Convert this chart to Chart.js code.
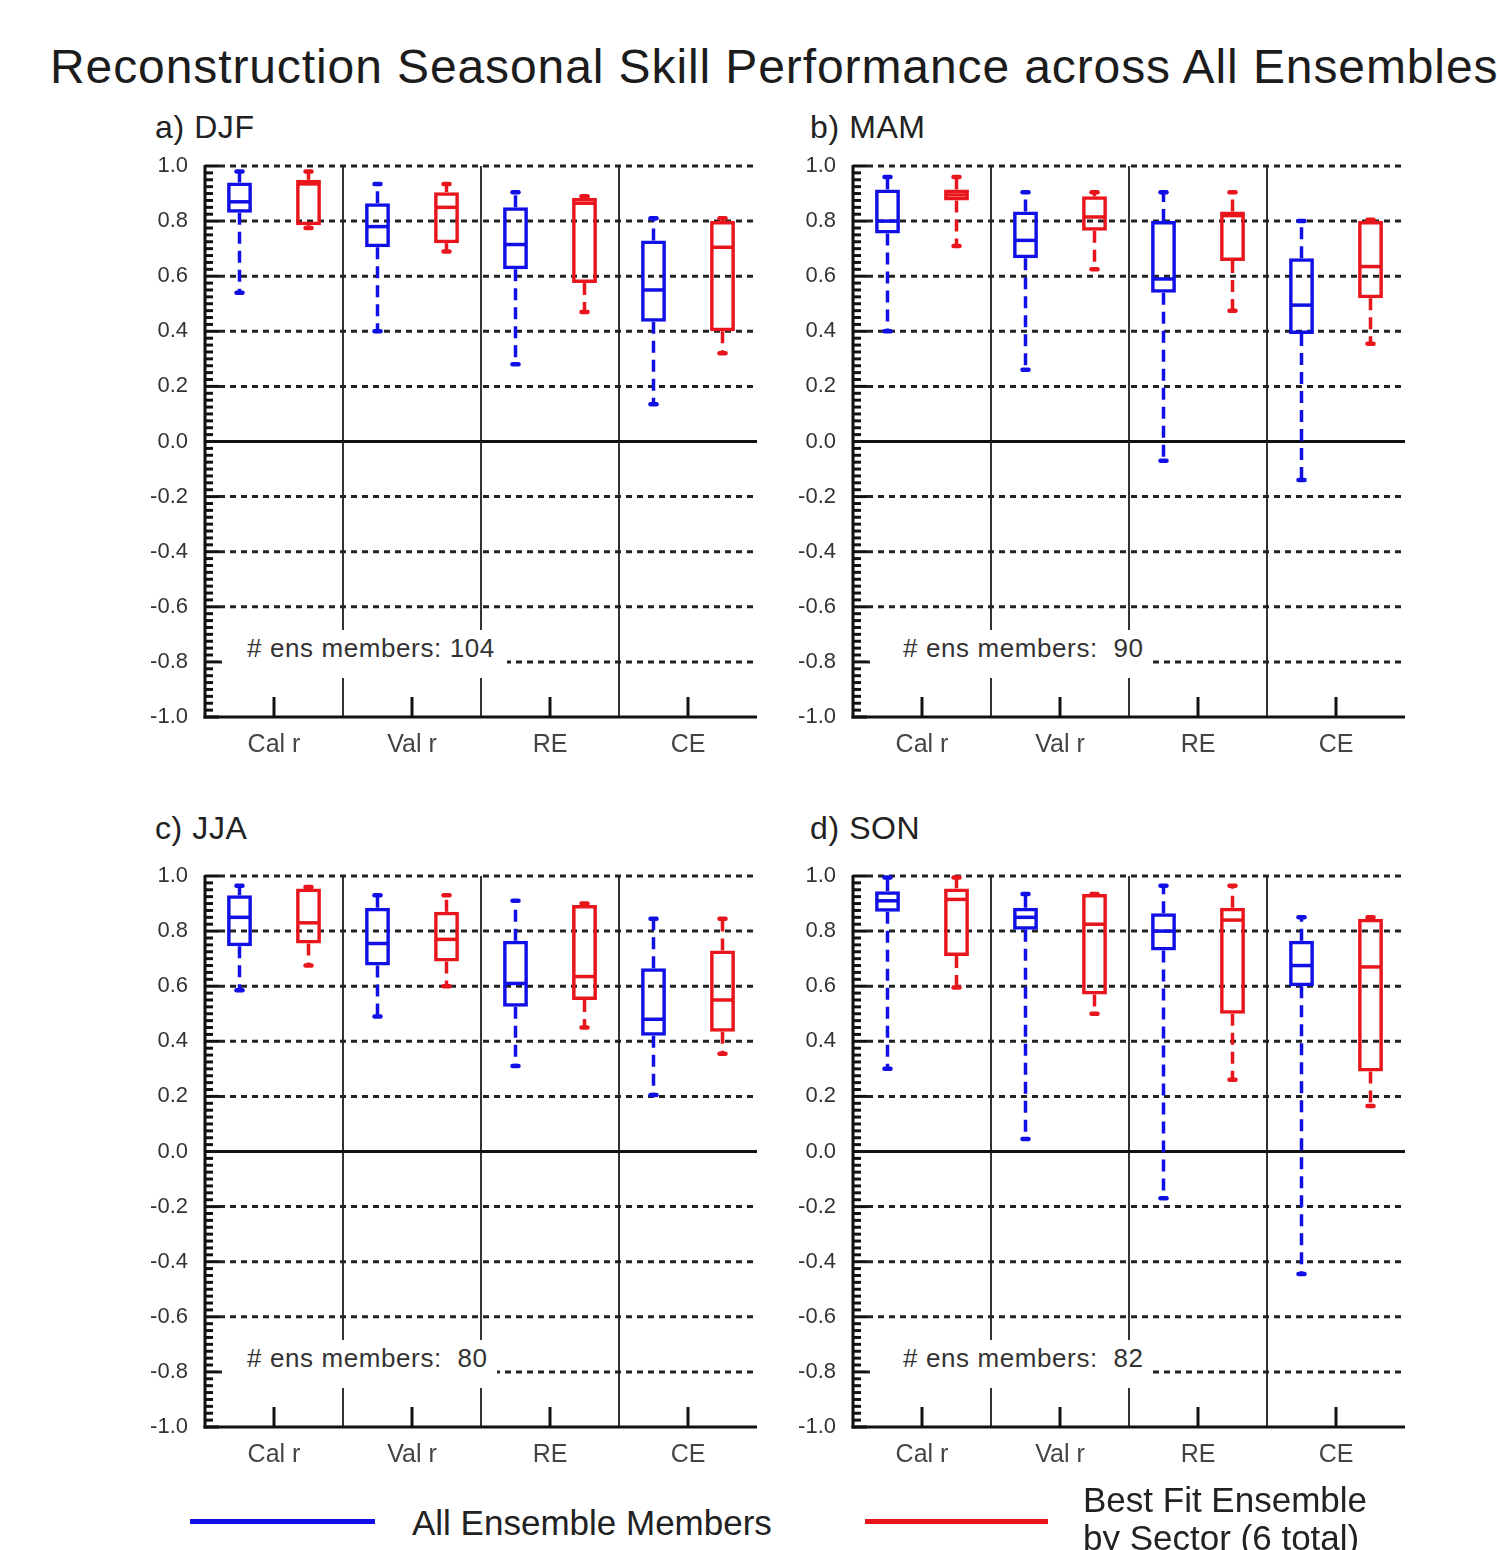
<!DOCTYPE html>
<html>
<head>
<meta charset="utf-8">
<script src="https://cdn.jsdelivr.net/npm/chart.js@4.4.1/dist/chart.umd.min.js"></script>
<style>
  body { margin: 0; background: #fff; width: 1497px; height: 1550px; position: relative; overflow: hidden;
         font-family: "Liberation Sans", Arial, Helvetica, sans-serif; color: #222; }
  .txt { position: absolute; white-space: pre; line-height: 1; }
  .mask { position: absolute; background: #fff; }
  canvas { position: absolute; }
  .key { position: absolute; height: 5px; }
</style>
</head>
<body>
<div class="txt" style="left:50px;top:43px;font-size:48px;letter-spacing:0.9px;color:#1c1c1c">Reconstruction Seasonal Skill Performance across All Ensembles</div>

<div class="txt" style="left:155px;top:111px;font-size:32px;letter-spacing:0.6px">a) DJF</div>
<div class="txt" style="left:810px;top:111px;font-size:32px;letter-spacing:0.6px">b) MAM</div>
<div class="txt" style="left:155px;top:812px;font-size:32px;letter-spacing:0.6px">c) JJA</div>
<div class="txt" style="left:810px;top:812px;font-size:32px;letter-spacing:0.6px">d) SON</div>

<canvas id="grafica-djf" width="640" height="630" style="left:140px;top:145px"></canvas>
<canvas id="grafica-mam" width="640" height="630" style="left:788px;top:145px"></canvas>
<canvas id="grafica-jja" width="640" height="630" style="left:140px;top:855px"></canvas>
<canvas id="grafica-son" width="640" height="630" style="left:788px;top:855px"></canvas>

<div class="mask" style="left:222px;top:630px;width:285px;height:48px"></div>
<div class="txt" style="left:247px;top:635px;font-size:26px;letter-spacing:0.6px;color:#333"># ens members: 104</div>
<div class="mask" style="left:870px;top:630px;width:282px;height:48px"></div>
<div class="txt" style="left:903px;top:635px;font-size:26px;letter-spacing:0.6px;color:#333"># ens members:  90</div>
<div class="mask" style="left:222px;top:1340px;width:275px;height:48px"></div>
<div class="txt" style="left:247px;top:1345px;font-size:26px;letter-spacing:0.6px;color:#333"># ens members:  80</div>
<div class="mask" style="left:870px;top:1340px;width:282px;height:48px"></div>
<div class="txt" style="left:903px;top:1345px;font-size:26px;letter-spacing:0.6px;color:#333"># ens members:  82</div>

<div class="key" style="left:190px;top:1519px;width:185px;background:#1010e6"></div>
<div class="txt" style="left:412px;top:1505px;font-size:35px">All Ensemble Members</div>
<div class="key" style="left:865px;top:1519px;width:183px;background:#e8161c"></div>
<div class="txt" style="left:1083px;top:1482px;font-size:35px">Best Fit Ensemble</div>
<div class="txt" style="left:1083px;top:1520px;font-size:35px">by Sector (6 total)</div>

<script>
// categories and tick labels
const categorias = ["Cal r", "Val r", "RE", "CE"];
const ticksY = [-1.0, -0.8, -0.6, -0.4, -0.2, 0.0, 0.2, 0.4, 0.6, 0.8, 1.0];

// box stats per category: [min, q1, median, q3, max]
const djfAll  = [[0.54, 0.83, 0.87, 0.94, 0.98], [0.40, 0.705, 0.78, 0.865, 0.935], [0.28, 0.625, 0.715, 0.85, 0.905], [0.135, 0.435, 0.55, 0.73, 0.81]];
const djfBest = [[0.775, 0.785, 0.935, 0.95, 0.98], [0.69, 0.72, 0.85, 0.905, 0.935], [0.47, 0.575, 0.865, 0.885, 0.89], [0.32, 0.40, 0.705, 0.80, 0.81]];

const mamAll  = [[0.40, 0.755, 0.80, 0.915, 0.96], [0.26, 0.665, 0.73, 0.835, 0.905], [-0.07, 0.54, 0.59, 0.80, 0.905], [-0.14, 0.39, 0.495, 0.665, 0.80]];
const mamBest = [[0.71, 0.875, 0.895, 0.915, 0.96], [0.625, 0.765, 0.815, 0.89, 0.905], [0.475, 0.655, 0.82, 0.835, 0.905], [0.355, 0.52, 0.635, 0.80, 0.805]];

const jjaAll  = [[0.585, 0.745, 0.85, 0.93, 0.965], [0.49, 0.675, 0.755, 0.885, 0.93], [0.31, 0.525, 0.61, 0.765, 0.91], [0.205, 0.42, 0.48, 0.665, 0.845]];
const jjaBest = [[0.675, 0.755, 0.83, 0.955, 0.96], [0.60, 0.69, 0.77, 0.87, 0.93], [0.45, 0.55, 0.635, 0.895, 0.90], [0.355, 0.435, 0.55, 0.73, 0.845]];

const sonAll  = [[0.30, 0.87, 0.91, 0.945, 0.995], [0.045, 0.805, 0.85, 0.885, 0.935], [-0.17, 0.73, 0.80, 0.865, 0.965], [-0.445, 0.60, 0.675, 0.765, 0.85]];
const sonBest = [[0.595, 0.71, 0.915, 0.955, 0.995], [0.50, 0.57, 0.825, 0.935, 0.935], [0.26, 0.50, 0.84, 0.885, 0.965], [0.165, 0.29, 0.67, 0.845, 0.85]];

const AZUL = "#1010e6";
const ROJO = "#e8161c";

function linea(ctx, x1, y1, x2, y2) {
  ctx.beginPath();
  ctx.moveTo(x1, y1);
  ctx.lineTo(x2, y2);
  ctx.stroke();
}

// grid, separators and axes (NCL style)
const marco = {
  id: "marco",
  beforeDatasetsDraw(chart) {
    const { ctx, chartArea: a, scales: { x, y } } = chart;
    ctx.save();
    // vertical separators between categories
    ctx.strokeStyle = "#333";
    ctx.lineWidth = 2;
    for (let i = 0; i < categorias.length - 1; i++) {
      const px = (x.getPixelForValue(i) + x.getPixelForValue(i + 1)) / 2;
      linea(ctx, px, a.top, px, a.bottom);
    }
    // horizontal lines
    ticksY.forEach(v => {
      const py = y.getPixelForValue(v);
      if (v === 0) {
        ctx.setLineDash([]);
        ctx.lineWidth = 3;
        ctx.strokeStyle = "#111";
        linea(ctx, a.left, py, a.right, py);
      } else if (v > -1) {
        ctx.setLineDash([6, 5]);
        ctx.lineWidth = 3;
        ctx.strokeStyle = "#222";
        linea(ctx, a.left + 14, py, a.right, py);
      }
    });
    ctx.restore();
  },
  afterDatasetsDraw(chart) {
    const { ctx, chartArea: a, scales: { x, y } } = chart;
    ctx.save();
    ctx.strokeStyle = "#111";
    ctx.setLineDash([]);
    ctx.lineWidth = 3;
    linea(ctx, a.left, a.top - 1, a.left, a.bottom + 1.5);
    linea(ctx, a.left - 1.5, a.bottom, a.right, a.bottom);
    // minor / major ticks pointing inward
    for (let k = 0; k <= 80; k++) {
      const py = y.getPixelForValue(-1 + k * 0.025);
      linea(ctx, a.left, py, a.left + (k % 8 === 0 ? 14 : 8), py);
    }
    for (let i = 0; i < categorias.length; i++) {
      const px = x.getPixelForValue(i);
      linea(ctx, px, a.bottom, px, a.bottom - 20);
    }
    ctx.restore();
  }
};

// medians and dashed whiskers on top of the floating bars
const bigotes = {
  id: "bigotes",
  afterDatasetsDraw(chart) {
    const { ctx, scales: { y } } = chart;
    ctx.save();
    chart.data.datasets.forEach((ds, i) => {
      const meta = chart.getDatasetMeta(i);
      ctx.strokeStyle = ds.borderColor;
      meta.data.forEach((bar, j) => {
        const [mn, q1, md, q3, mx] = ds.stats[j];
        const px = bar.x, half = bar.width / 2;
        ctx.setLineDash([]);
        ctx.lineCap = "butt";
        ctx.lineWidth = 3.5;
        linea(ctx, px - half + 1, y.getPixelForValue(md), px + half - 1, y.getPixelForValue(md));
        ctx.setLineDash([12, 7]);
        ctx.lineWidth = 3.5;
        if (mx > q3) linea(ctx, px, y.getPixelForValue(q3), px, y.getPixelForValue(mx));
        if (mn < q1) linea(ctx, px, y.getPixelForValue(q1), px, y.getPixelForValue(mn));
        ctx.setLineDash([]);
        ctx.lineCap = "round";
        ctx.lineWidth = 4.5;
        [mn, mx].forEach(v => {
          const py = y.getPixelForValue(v);
          linea(ctx, px - 3, py, px + 3, py);
        });
      });
    });
    ctx.restore();
  }
};

function crearPanel(id, todos, mejores) {
  const caja = (stats, color) => ({
    data: stats.map(s => [s[1], s[3]]),
    stats: stats,
    borderColor: color,
    backgroundColor: "rgba(0,0,0,0)",
    borderWidth: 3.5,
    borderSkipped: false,
    barPercentage: 0.36,
    categoryPercentage: 1.0
  });
  return new Chart(document.getElementById(id).getContext("2d"), {
    type: "bar",
    data: {
      labels: categorias,
      datasets: [caja(todos, AZUL), caja(mejores, ROJO)]
    },
    options: {
      responsive: false,
      animation: false,
      layout: { padding: { top: 21, right: 23, bottom: 13, left: 0 } },
      plugins: { legend: { display: false }, tooltip: { enabled: false } },
      scales: {
        x: {
          grid: { display: false, drawTicks: false },
          border: { display: false },
          ticks: { font: { family: "Liberation Sans", size: 25 }, color: "#444", padding: 13 },
          afterFit: s => { s.height = 45; }
        },
        y: {
          min: -1, max: 1,
          grid: { display: false, drawTicks: false },
          border: { display: false },
          afterBuildTicks: s => { s.ticks = ticksY.map(v => ({ value: v })); },
          ticks: {
            font: { family: "Liberation Sans", size: 22 },
            color: "#333",
            padding: 17,
            callback: v => v.toFixed(1)
          },
          afterFit: s => { s.width = 65; s.paddingTop = 0; s.paddingBottom = 0; }
        }
      }
    },
    plugins: [marco, bigotes]
  });
}

crearPanel("grafica-djf", djfAll, djfBest);
crearPanel("grafica-mam", mamAll, mamBest);
crearPanel("grafica-jja", jjaAll, jjaBest);
crearPanel("grafica-son", sonAll, sonBest);
</script>
</body>
</html>
